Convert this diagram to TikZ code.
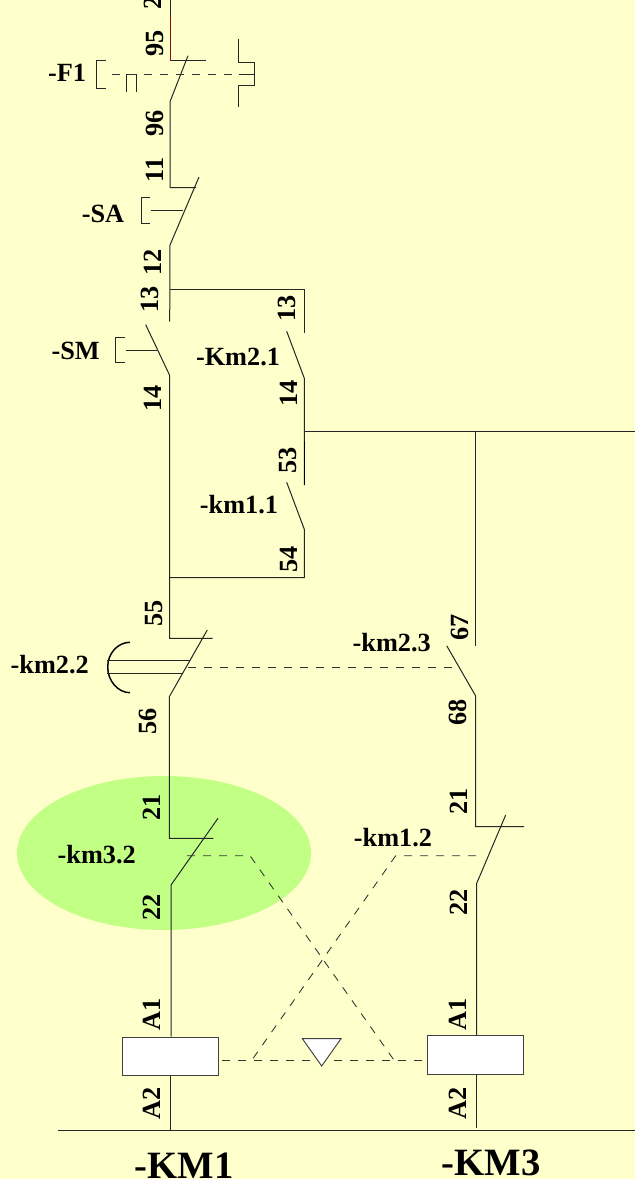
\documentclass[tikz,border=0pt]{standalone}
\usepackage{fontspec}
\setmainfont{Liberation Serif}
\usepackage{tikz}
\usetikzlibrary{calc,positioning}
\definecolor{paper}{HTML}{FFFFCC}
\definecolor{halo}{HTML}{C2FF85}
\definecolor{darkwire}{HTML}{8B1010}
\begin{document}
\begin{tikzpicture}[x=0.75pt,y=-0.75pt,
    wire/.style={line width=0.75pt,black!85},
    link/.style={line width=0.65pt,black!80,dash pattern=on 6pt off 6pt},
    tag/.style={font=\bfseries\fontsize{19.7}{19.7}\selectfont,inner sep=0pt},
    pin/.style={tag,rotate=90},
    coil/.style={draw=black!75,line width=0.8pt,fill=white,minimum width=72pt,minimum height=29pt,inner sep=0pt},
    title/.style={font=\bfseries\fontsize{29}{29}\selectfont,inner sep=0pt}]
 \useasboundingbox (0,0) rectangle (635,1179);
 \fill[paper] (0,0) rectangle (635,1179);
 \fill[halo] (164,853) ellipse [x radius=147,y radius=77];

 % coils
 \node[coil] (KM1coil) at (170.2,1056.6) {};
 \node[coil] (KM3coil) at (475.6,1055) {};
 \coordinate (railL) at (170.9,1130.5);
 \coordinate (railR) at (476.7,1128);
 \coordinate (railA) at (58,1130.5);
 \coordinate (railB) at (635,1130.5);
 \draw[wire] (railA) -- (railB);

 % left branch
 \coordinate (top) at (170,0);
 \coordinate (F1a) at (170,60.7);
 \coordinate (F1b) at (170,101.7);
 \coordinate (SAa) at (170,187.5);
 \coordinate (SAb) at (170,245);
 \coordinate (SMa) at (169.7,321.7);
 \coordinate (SMb) at (169.5,375);
 \coordinate (kAa) at (169.5,638.3);
 \coordinate (kAb) at (169.3,696.7);
 \coordinate (kBa) at (169.3,838.3);
 \coordinate (kBb) at (171,885);
 \draw[wire] (top) -- (F1a) -- (205.7,60.7);
 \draw[darkwire,line width=0.75pt] (170,16) -- (F1a);
 \draw[wire] (188,55.7) -- (F1b) -- (SAa) -- (196,187.5);
 \draw[wire] (199,177) -- (SAb) -- (SMa);
 \draw[wire] (145.7,324.7) -- (SMb) -- (kAa) -- (212.7,638.3);
 \draw[wire] (207.3,630) -- (kAb) -- (kBa) -- (213.3,838.3);
 \draw[wire] (218,818.3) -- (kBb) -- (KM1coil.north -| kBb);
 \draw[wire] (KM1coil.south -| railL) -- (railL);

 % parallel branch
 \coordinate (Kma) at (304.3,289.5);
 \coordinate (Kmb) at (304.3,333);
 \coordinate (Kmc) at (304.3,378.3);
 \coordinate (Kmd) at (304.3,431.5);
 \coordinate (kmh) at (304.3,441);
 \coordinate (kme) at (304.3,485);
 \coordinate (kmf) at (304.3,529.3);
 \coordinate (kmg) at (304.3,577.7);
 \draw[wire] (169.8,289.5) -- (Kma) -- (Kmb);
 \draw[wire] (286.7,331.3) -- (Kmc) -- (Kmd) -- (kme);
 \draw[line width=1.1pt] (kmh) -- (kme);
 \draw[wire] (286.7,482.3) -- (kmf) -- (kmg) -- (169.5,577.7);

 % right branch
 \coordinate (kCa) at (475.7,431.5);
 \coordinate (kCb) at (475.7,645.7);
 \coordinate (kCc) at (475.7,696);
 \coordinate (kCd) at (475.7,826.7);
 \coordinate (kCe) at (476.7,883.3);
 \draw[wire] (Kmd) -- (635,431.5);
 \draw[wire] (kCa) -- (kCb);
 \draw[wire] (446.7,645.7) -- (kCc) -- (kCd) -- (524,826.7);
 \draw[wire] (505.7,815) -- (kCe) -- (KM3coil.north -| kCe);
 \draw[wire] (KM3coil.south -| railR) -- (railR);

 % actuators
 \draw[wire] (105.7,60) -| (96,88) -- (105.7,88);
 \draw[wire] (150,197.3) -| (141,223.3) -- (150,223.3);
 \draw[wire] (150.7,210.7) -- (183.3,210.7);
 \draw[wire] (125,337.3) -| (115.7,362.7) -- (125,362.7);
 \draw[wire] (125.7,350) -- (157.3,350);
 \draw[wire] (126.3,91.7) |- (136.7,74) -- (136.7,91.7);
 \draw[wire] (238.7,39.3) |- (254.3,62.3) |- (238.7,85) -- (238.7,107.3);
 \draw[wire] (239,74) -- (254.3,74);
 \draw[line width=1.1pt] (130,642.3) .. controls (117.9,642.3) and (107.7,653.2) .. (107.7,667)
   .. controls (107.7,680.8) and (117.9,692.7) .. (130,692.7);
 \draw[wire] (107,660.7) -- (190,660.7);
 \draw[wire] (107,673.3) -- (183,673.3);

 % interlock
 \draw[link] (111.7,74) -- (231.7,74);
 \draw[link] (188,667.7) -- (455,667.7);
 \draw[link] (187,855.7) -- (250,855.7) -- (394.4,1060.7);
 \draw[link] (476,855.7) -- (395.7,855.7) -- (251.4,1060.7);
 \draw[link] (KM1coil.east |- 0,1060.7) ++(3,0) -- (KM3coil.west |- 0,1060.7);
 \filldraw[draw=black!75,line width=0.7pt,fill=white] (302.4,1038.7) -- (341,1038.7) -- (321.7,1066) -- cycle;

 % texts
 \foreach \nm/\X/\Y/\txt in {pinT/153/3/2,pinA/155/43/95,pinB/155/123/96,pinC/155/170/11,pinD/153/262/12,
   pinE/150/299.7/13,pinF/153.3/398/14,pinG/287.3/308.8/13,pinH/289/393.7/14,pinI/288.3/460/53,
   pinJ/289/559/54,pinK/154.3/613/55,pinL/147.7/721.7/56,pinM/151.7/807/21,pinN/152.3/907/22,
   pinO/460/627/67,pinP/458.3/712.7/68,pinQ/458.3/801.3/21,pinR/458.3/902.8/22,
   pinS/152.3/1014.7/A1,pinU/152.3/1103.3/A2,pinV/458/1014/A1,pinW/458/1103/A2}
   \node[pin] (\nm) at (\X,\Y) {\txt};
 \foreach \nm/\X/\Y/\txt in {F1/67/73/-F1,SA/103/214/-SA,SM/75.7/350.7/-SM,Km21/238/356.7/-Km2.1,
   km11/239/505/-km1.1,km22/49.7/665/-km2.2,km32/96.7/855/-km3.2,km23/391.7/643/-km2.3,km12/393/838/-km1.2}
   \node[tag] (\nm) at (\X,\Y) {\txt};
 \node[title] (KM1) at (184,1166) {-KM1};
 \node[title] (KM3) at (491,1163) {-KM3};
\end{tikzpicture}
\end{document}
